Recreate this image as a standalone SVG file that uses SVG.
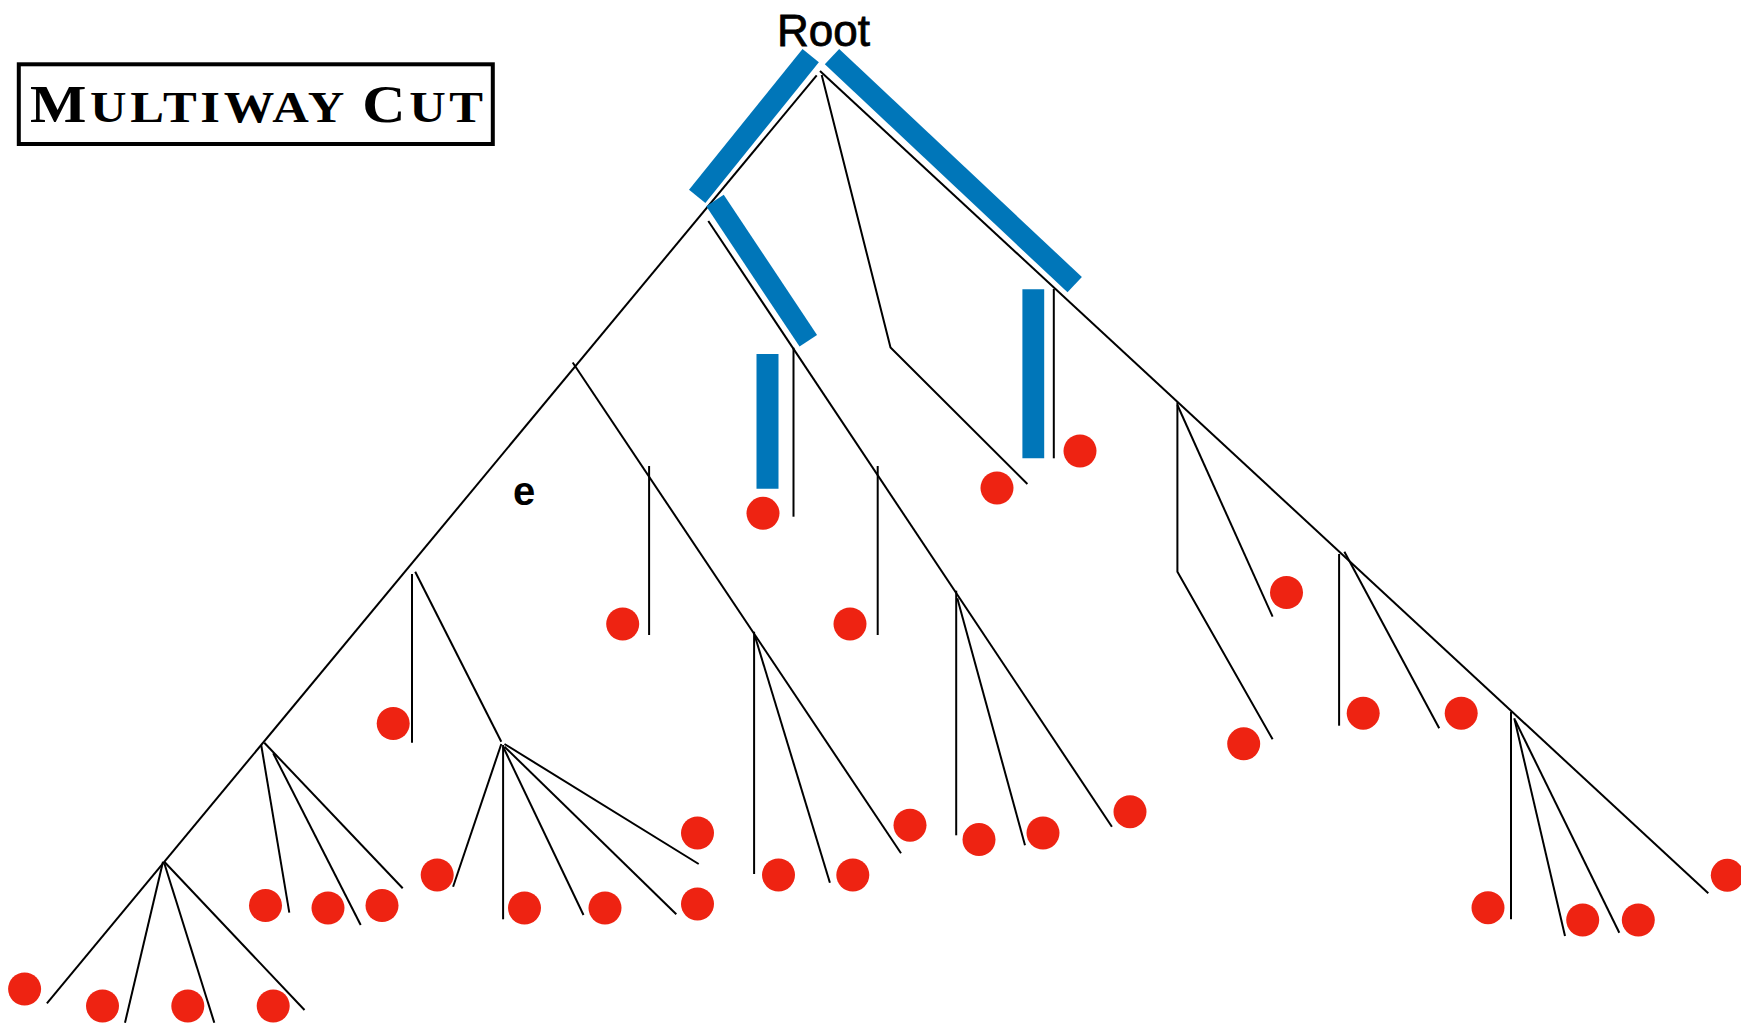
<svg xmlns="http://www.w3.org/2000/svg" width="1741" height="1025" viewBox="0 0 1741 1025">
  <style>
    .edge { fill: none; stroke: #000; stroke-width: 2; }
    .cut { stroke: #0076B9; stroke-width: 21; stroke-linecap: butt; }
    .term { fill: #EE2312; }
    .title { font-family: "Liberation Serif", "Times New Roman", serif; font-weight: bold; fill: #000; }
    .label { font-family: "Liberation Sans", Arial, sans-serif; fill: #000; }
  </style>

  <rect width="1741" height="1025" fill="#fff"/>

  <!-- title box -->
  <g id="title">
    <rect x="18.8" y="64.3" width="474" height="79.7" fill="none" stroke="#000" stroke-width="4"/>
    <g transform="translate(30,122) scale(1.15,1)">
      <text class="title" x="0" y="0" textLength="394" lengthAdjust="spacing"><tspan font-size="52">M</tspan><tspan font-size="44">ULTIWAY </tspan><tspan font-size="52">C</tspan><tspan font-size="44">UT</tspan></text>
    </g>
  </g>

  <g id="root">
    <text class="label" x="777" y="46" font-size="44" stroke="#000" stroke-width="0.8">Root</text>
  </g>

  <!-- tree edges -->
  <g id="edges">
    <!-- trunks from the root -->
    <line class="edge" x1="816.7" y1="75.3" x2="46.9" y2="1003.3"/>
    <polyline class="edge" points="821.7,75 890.5,347.5 1027.4,484"/>
    <line class="edge" x1="820" y1="71" x2="1708.3" y2="893.3"/>

    <!-- left subtree -->
    <line class="edge" x1="572.7" y1="362.5" x2="901" y2="853.3"/>
    <line class="edge" x1="649.1" y1="466" x2="649.1" y2="635"/>
    <line class="edge" x1="754.1" y1="631.7" x2="754.1" y2="874"/>
    <line class="edge" x1="755.2" y1="637" x2="829.9" y2="882.7"/>

    <line class="edge" x1="412" y1="574" x2="412" y2="742.7"/>
    <line class="edge" x1="415.2" y1="571.7" x2="501.3" y2="741.7"/>
    <line class="edge" x1="501.3" y1="744" x2="453.1" y2="886.7"/>
    <line class="edge" x1="503.1" y1="745" x2="503.1" y2="919.3"/>
    <line class="edge" x1="503.1" y1="746.7" x2="583.5" y2="915"/>
    <line class="edge" x1="504.5" y1="746.7" x2="676.3" y2="914.3"/>
    <line class="edge" x1="504.5" y1="744" x2="698.7" y2="864"/>

    <line class="edge" x1="261.2" y1="745" x2="289.3" y2="912.7"/>
    <line class="edge" x1="273.2" y1="753.3" x2="360.7" y2="925"/>
    <line class="edge" x1="264.3" y1="742.7" x2="402.7" y2="888.3"/>

    <line class="edge" x1="163" y1="861.7" x2="125" y2="1022.7"/>
    <line class="edge" x1="164.3" y1="863.3" x2="214.3" y2="1022.7"/>
    <line class="edge" x1="164.3" y1="861.7" x2="304.5" y2="1010"/>

    <!-- middle subtree -->
    <line class="edge" x1="708.3" y1="221" x2="1111.9" y2="826.7"/>
    <line class="edge" x1="793.5" y1="347.7" x2="793.5" y2="516.7"/>
    <line class="edge" x1="877.7" y1="466" x2="877.7" y2="635"/>
    <line class="edge" x1="956.2" y1="590.7" x2="956.2" y2="835.3"/>
    <line class="edge" x1="957.3" y1="598.3" x2="1025" y2="845.3"/>

    <!-- right subtree -->
    <line class="edge" x1="1053.8" y1="289" x2="1053.8" y2="458.3"/>
    <polyline class="edge" points="1177.4,402.3 1177.4,571.7 1272.6,739.3"/>
    <line class="edge" x1="1177.4" y1="405" x2="1272.6" y2="616.7"/>
    <line class="edge" x1="1339.1" y1="554" x2="1339.1" y2="725.7"/>
    <line class="edge" x1="1344.4" y1="551.7" x2="1439.2" y2="728.3"/>
    <line class="edge" x1="1511" y1="711.7" x2="1511" y2="919.3"/>
    <line class="edge" x1="1514.3" y1="718.3" x2="1565" y2="936"/>
    <line class="edge" x1="1515" y1="720" x2="1619.3" y2="932.7"/>

    <text class="label" x="513" y="505" font-size="40" font-weight="bold">e</text>
  </g>

  <!-- cut edges -->
  <g id="cuts">
    <line class="cut" x1="810.7" y1="55.7" x2="697.2" y2="196.3"/>
    <line class="cut" x1="832" y1="56.7" x2="1074.7" y2="284.7"/>
    <line class="cut" x1="715" y1="200.5" x2="808.3" y2="340.8"/>
    <line class="cut" x1="1033.3" y1="289.3" x2="1033.3" y2="458.3" style="stroke-width:21.8"/>
    <line class="cut" x1="767.5" y1="354" x2="767.5" y2="488.7" style="stroke-width:22"/>
  </g>

  <!-- terminals -->
  <g id="t01"><circle class="term" cx="24.6" cy="989" r="16.5"/></g>
  <g id="t02"><circle class="term" cx="102.5" cy="1006" r="16.5"/></g>
  <g id="t03"><circle class="term" cx="187.8" cy="1006" r="16.5"/></g>
  <g id="t04"><circle class="term" cx="273.2" cy="1006" r="16.5"/></g>
  <g id="t05"><circle class="term" cx="265.5" cy="905.5" r="16.5"/></g>
  <g id="t06"><circle class="term" cx="328" cy="908" r="16.5"/></g>
  <g id="t07"><circle class="term" cx="382" cy="905.5" r="16.5"/></g>
  <g id="t08"><circle class="term" cx="393.2" cy="723.5" r="16.5"/></g>
  <g id="t09"><circle class="term" cx="437.2" cy="875" r="16.5"/></g>
  <g id="t10"><circle class="term" cx="524.5" cy="908" r="16.5"/></g>
  <g id="t11"><circle class="term" cx="605" cy="908" r="16.5"/></g>
  <g id="t12"><circle class="term" cx="697.5" cy="904" r="16.5"/></g>
  <g id="t13"><circle class="term" cx="697.5" cy="833" r="16.5"/></g>
  <g id="t14"><circle class="term" cx="622.7" cy="624" r="16.5"/></g>
  <g id="t15"><circle class="term" cx="763" cy="513.3" r="16.5"/></g>
  <g id="t16"><circle class="term" cx="850" cy="624" r="16.5"/></g>
  <g id="t17"><circle class="term" cx="778.5" cy="875" r="16.5"/></g>
  <g id="t18"><circle class="term" cx="852.8" cy="875" r="16.5"/></g>
  <g id="t19"><circle class="term" cx="910" cy="825.2" r="16.5"/></g>
  <g id="t20"><circle class="term" cx="979" cy="839.6" r="16.5"/></g>
  <g id="t21"><circle class="term" cx="1043" cy="833" r="16.5"/></g>
  <g id="t22"><circle class="term" cx="1130" cy="811.7" r="16.5"/></g>
  <g id="t23"><circle class="term" cx="997" cy="488" r="16.5"/></g>
  <g id="t24"><circle class="term" cx="1080" cy="451" r="16.5"/></g>
  <g id="t25"><circle class="term" cx="1286.5" cy="592.5" r="16.5"/></g>
  <g id="t26"><circle class="term" cx="1243.7" cy="743.8" r="16.5"/></g>
  <g id="t27"><circle class="term" cx="1363.2" cy="713.2" r="16.5"/></g>
  <g id="t28"><circle class="term" cx="1461.2" cy="713.2" r="16.5"/></g>
  <g id="t29"><circle class="term" cx="1488" cy="907.7" r="16.5"/></g>
  <g id="t30"><circle class="term" cx="1582.7" cy="920" r="16.5"/></g>
  <g id="t31"><circle class="term" cx="1638.3" cy="920" r="16.5"/></g>
  <g id="t32"><circle class="term" cx="1727.3" cy="875.3" r="16.5"/></g>
</svg>
